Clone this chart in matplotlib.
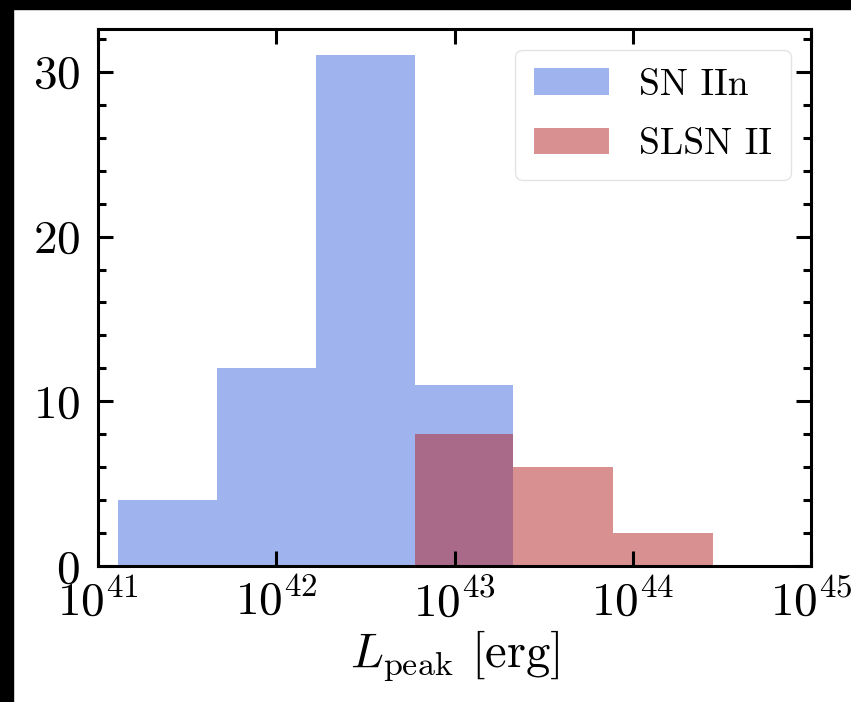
import numpy as np
import matplotlib
matplotlib.use("Agg")
import matplotlib.pyplot as plt
from matplotlib.patches import Rectangle
from matplotlib.ticker import MultipleLocator, NullLocator, LogLocator

# fonts: Computer Modern look
plt.rcParams["font.family"] = "serif"
plt.rcParams["font.serif"] = ["cmr10", "DejaVu Serif"]
plt.rcParams["mathtext.fontset"] = "cm"
plt.rcParams["axes.formatter.use_mathtext"] = True

# data: bin edges (log10 of L_peak) and counts per bin
bin_edges_log = [41.11, 41.67, 42.22, 42.78, 43.33, 43.89, 44.45]
sn_iin_counts = [4, 12, 31, 11, 0, 0]
slsn_ii_counts = [0, 0, 0, 8, 6, 2]
labels = ["SN IIn", "SLSN II"]

edges = 10 ** np.array(bin_edges_log)
centers = np.sqrt(edges[:-1] * edges[1:])

fig = plt.figure(figsize=(8.51, 7.02), dpi=100)
ax = fig.add_axes([0.1152, 0.1937, 0.838, 0.765])

ax.hist(centers, bins=edges, weights=sn_iin_counts, color="royalblue",
        alpha=0.5, label=labels[0])
ax.hist(centers, bins=edges, weights=slsn_ii_counts, color="firebrick",
        alpha=0.5, label=labels[1])

ax.set_xscale("log")
ax.set_xlim(1e41, 1e45)
ax.set_ylim(0, 32.6)
ax.xaxis.set_major_locator(LogLocator(base=10, numticks=10))
ax.xaxis.set_minor_locator(NullLocator())
ax.yaxis.set_major_locator(MultipleLocator(10))
ax.yaxis.set_minor_locator(MultipleLocator(2))

ax.tick_params(which="both", direction="in", top=True, right=True,
               width=2.2, labelsize=34)
ax.tick_params(which="major", length=11)
ax.tick_params(which="minor", length=5.5)
ax.tick_params(axis="x", pad=9)
ax.tick_params(axis="y", pad=13)
for s in ax.spines.values():
    s.set_linewidth(2.2)

ax.set_xlabel(r"$L_{\rm peak}$ [erg]", fontsize=35, labelpad=3)

leg = ax.legend(loc="upper right", fontsize=27, fancybox=True,
                borderaxespad=0.55, labelspacing=0.7, borderpad=0.5)
leg.get_frame().set_edgecolor("#dddddd")

# black screenshot border on top and left
fig.patches.append(Rectangle((0, 1 - 9 / 702), 1, 9 / 702, transform=fig.transFigure,
                             color="black", zorder=-1))
fig.patches.append(Rectangle((0, 0), 13 / 851, 1, transform=fig.transFigure,
                             color="black", zorder=-1))

fig.savefig("out.png", dpi=100)
